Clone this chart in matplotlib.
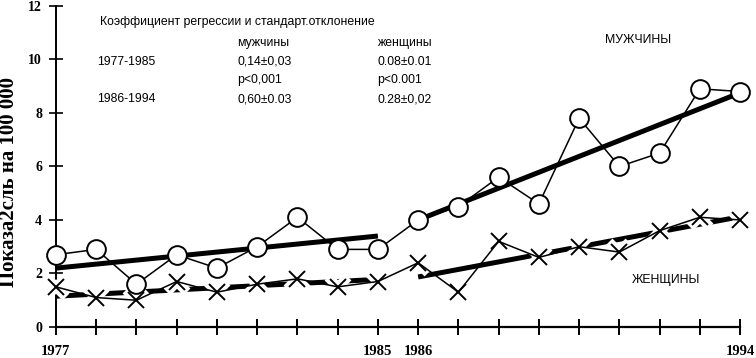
import numpy as np
import matplotlib
matplotlib.use('Agg')
import matplotlib.pyplot as plt

years = list(range(1977, 1995))
muzhchiny = [2.7, 2.9, 1.6, 2.7, 2.2, 3.0, 4.1, 2.9, 2.9,
             4.0, 4.5, 5.6, 4.6, 7.8, 6.0, 6.5, 8.9, 8.8]
zhenshchiny = [1.5, 1.1, 1.0, 1.7, 1.3, 1.6, 1.8, 1.5, 1.7,
               2.4, 1.3, 3.2, 2.6, 3.0, 2.8, 3.6, 4.1, 4.0]

# линии регрессии (концы отрезков)
trend_years_1 = [1977, 1985]
trend_years_2 = [1986, 1994]
trend_m1 = [2.2, 3.4]
trend_m2 = [4.0, 8.75]
trend_w1 = [1.15, 1.78]
trend_w2 = [1.87, 4.12]

xtick_labels = {1977: '1977', 1985: '1985', 1986: '1986', 1994: '1994'}

serif = 'Liberation Serif'
sans = 'Liberation Sans'

fig = plt.figure(figsize=(7.56, 3.58), dpi=100)
ax = fig.add_axes([0.074, 0.0866, 0.905, 0.897])

# тренды
for ty, tv in [(trend_years_1, trend_m1), (trend_years_2, trend_m2),
               (trend_years_1, trend_w1), (trend_years_2, trend_w2)]:
    ax.plot(ty, tv, color='black', lw=3.6, solid_capstyle='butt', zorder=2)

# белый ореол вокруг крестиков
ax.plot(years, zhenshchiny, ls='none', marker='x', ms=14, mew=7,
        color='white', zorder=3, clip_on=False)

ax.plot(years, zhenshchiny, color='black', lw=1.1, marker='x', ms=11,
        mew=1.4, zorder=4, clip_on=False)
ax.plot(years, muzhchiny, color='black', lw=1.1, marker='o', ms=13.5,
        mew=1.4, mfc='white', mec='black', zorder=5, clip_on=False)

ax.set_xlim(1977, 1994)
ax.set_ylim(0, 12)
for s in ['top', 'right']:
    ax.spines[s].set_visible(False)
ax.spines['left'].set_linewidth(1.4)
ax.spines['bottom'].set_linewidth(1.6)

ax.set_yticks(range(0, 13, 2))
ax.set_yticklabels([str(v) for v in range(0, 13, 2)], fontfamily=serif,
                   fontweight='bold', fontsize=10)
ax.set_xticks(years)
ax.set_xticklabels([xtick_labels.get(y, '') for y in years], fontfamily=serif,
                   fontweight='bold', fontsize=10.5)
ax.tick_params(axis='y', direction='inout', length=10, width=1.2, pad=5)
ax.tick_params(axis='x', direction='inout', length=11, width=1.4, pad=7.5)

ax.set_ylabel('Показа2сль на 100 000', fontfamily=serif, fontweight='bold',
              fontsize=15)
ax.yaxis.set_label_coords(-0.054, 0.45)

txt = dict(fontfamily=sans, fontsize=8.8, transform=fig.transFigure,
           va='center', ha='left')
def fx(px):
    return px / 756
def fy(py):
    return 1 - py / 358

fig.text(fx(100), fy(22), 'Коэффициент регрессии и стандарт.отклонение', **txt)
fig.text(fx(237), fy(43), 'мужчины', **txt)
fig.text(fx(377), fy(43), 'женщины', **txt)
fig.text(fx(97), fy(62), '1977-1985', **txt)
fig.text(fx(237), fy(62), '0,14±0,03', **txt)
fig.text(fx(377), fy(62), '0.08±0.01', **txt)
fig.text(fx(237), fy(80), 'p<0,001', **txt)
fig.text(fx(377), fy(80), 'p<0.001', **txt)
fig.text(fx(97), fy(99), '1986-1994', **txt)
fig.text(fx(237), fy(99), '0,60±0.03', **txt)
fig.text(fx(377), fy(99), '0.28±0,02', **txt)
fig.text(fx(605), fy(40), 'МУЖЧИНЫ', **txt)
fig.text(fx(632), fy(280), 'ЖЕНЩИНЫ', **txt)

fig.savefig('out.png', dpi=100)
